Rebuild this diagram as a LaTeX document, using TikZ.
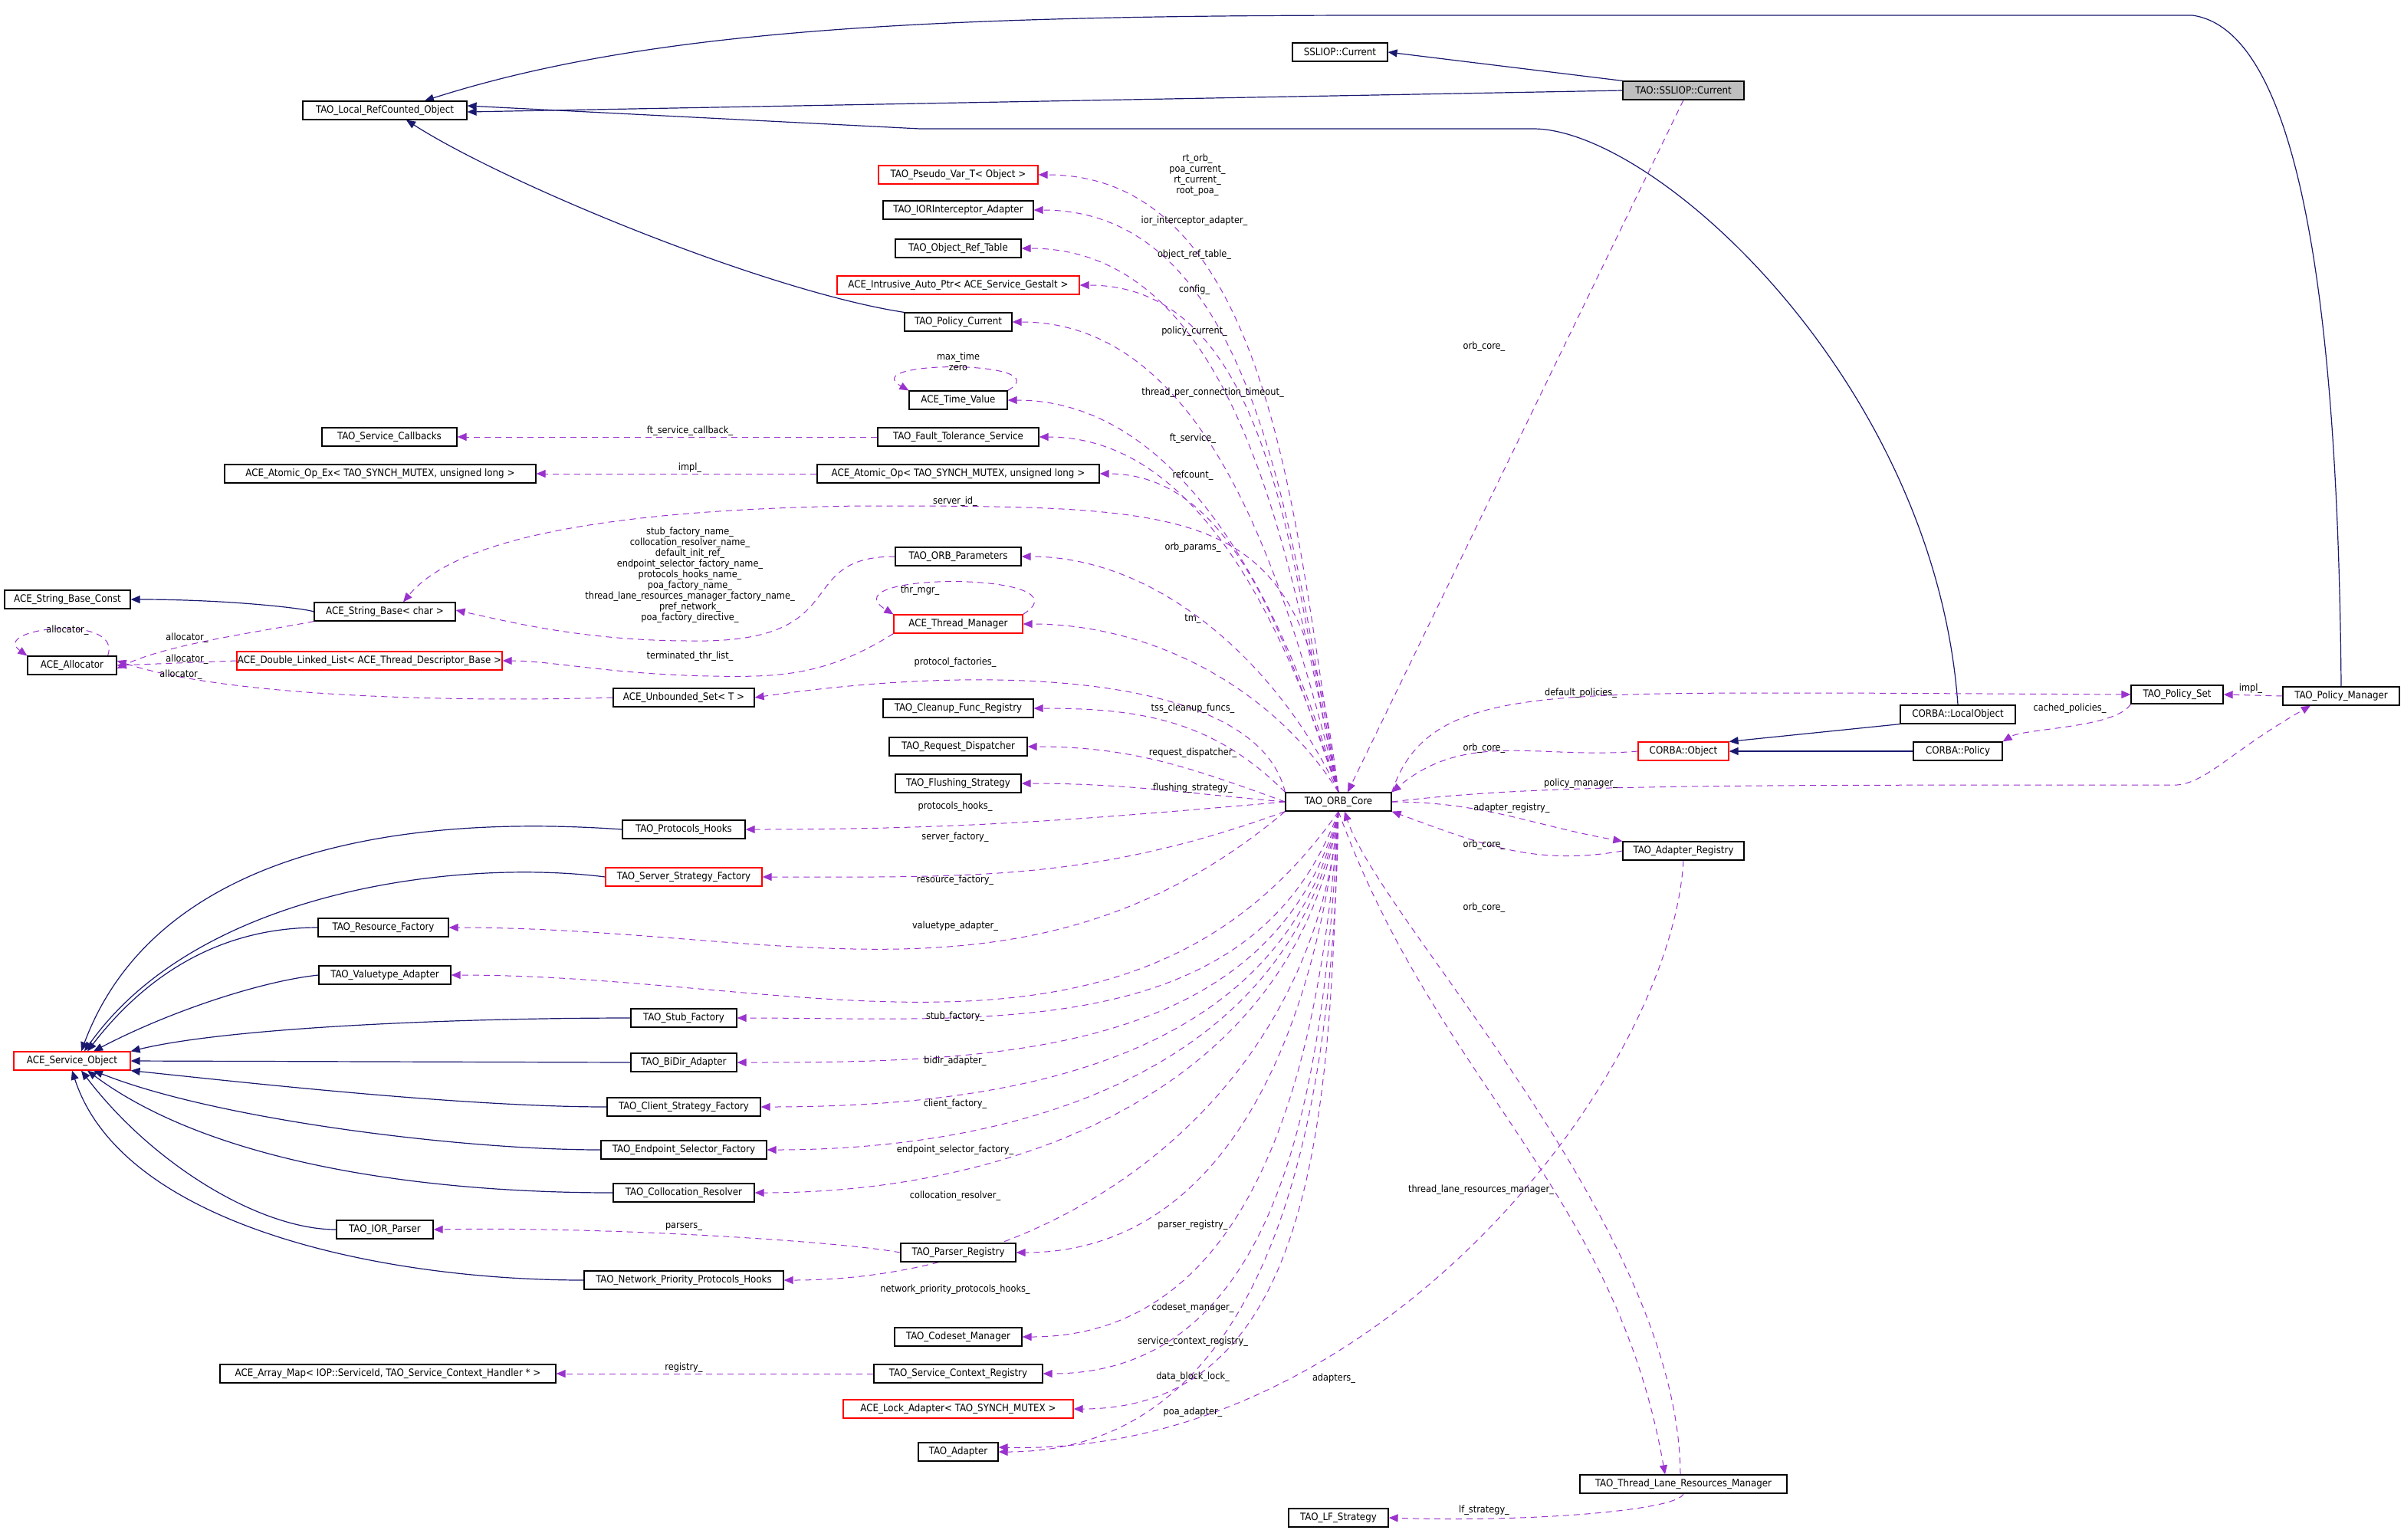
\documentclass[tikz,border=0pt]{standalone}
\usepackage{fontspec}
\setmainfont{DejaVu Sans Condensed}
\usetikzlibrary{arrows.meta,backgrounds}
\definecolor{navy}{HTML}{191970}
\definecolor{purp}{HTML}{9A32CD}
\begin{document}
\begin{tikzpicture}[x=1pt,y=-1pt,
  box/.style={draw=black,line width=0.6pt,minimum height=12pt,inner sep=0pt,font=\fontsize{6.6}{7}\selectfont,fill=white},
  rbox/.style={box,draw=red},
  gbox/.style={box,fill=black!25},
  inh/.style={draw=navy,line width=0.6pt,-{Triangle[length=6pt,width=5pt]}},
  dep/.style={draw=purp,line width=0.5pt,dashed,dash pattern=on 4pt off 3pt,-{Triangle[length=6pt,width=5pt]}},
  lbl/.style={font=\fontsize{6.3}{7}\selectfont,inner sep=0pt,align=center}]
\useasboundingbox (0,0) rectangle (1568,1004);
\newcommand\bx[6][box]{\node[#1,minimum width=#5pt] (#2) at (#3,#4) {#6};}
% nodes
\bx{sc}{874}{34}{62}{SSLIOP::Current}
\bx[gbox]{ssl}{1098}{59}{79}{TAO::SSLIOP::Current}
\bx{lro}{251}{72}{107}{TAO\_Local\_RefCounted\_Object}
\bx[rbox]{pvt}{625}{114}{104}{TAO\_Pseudo\_Var\_T< Object >}
\bx{iora}{625}{137}{98}{TAO\_IORInterceptor\_Adapter}
\bx{ort}{625}{162}{82}{TAO\_Object\_Ref\_Table}
\bx[rbox]{iap}{625}{186}{158}{ACE\_Intrusive\_Auto\_Ptr< ACE\_Service\_Gestalt >}
\bx{pc}{625}{210}{70}{TAO\_Policy\_Current}
\bx{tv}{625}{261}{64}{ACE\_Time\_Value}
\bx{scb}{254}{285}{88}{TAO\_Service\_Callbacks}
\bx{ft}{625}{285}{105}{TAO\_Fault\_Tolerance\_Service}
\bx{aoe}{248}{309}{203}{ACE\_Atomic\_Op\_Ex< TAO\_SYNCH\_MUTEX, unsigned long >}
\bx{ao}{625}{309}{184}{ACE\_Atomic\_Op< TAO\_SYNCH\_MUTEX, unsigned long >}
\bx{sbc}{44}{391}{82}{ACE\_String\_Base\_Const}
\bx{sb}{251}{399}{92}{ACE\_String\_Base< char >}
\bx{op}{625}{363}{82}{TAO\_ORB\_Parameters}
\bx[rbox]{tm}{625}{407}{84}{ACE\_Thread\_Manager}
\bx{alloc}{47}{434}{58}{ACE\_Allocator}
\bx[rbox]{dll}{241}{431}{173}{ACE\_Double\_Linked\_List< ACE\_Thread\_Descriptor\_Base >}
\bx{us}{446}{455}{92}{ACE\_Unbounded\_Set< T >}
\bx{cfr}{625}{462}{98}{TAO\_Cleanup\_Func\_Registry}
\bx{rd}{625}{487}{90}{TAO\_Request\_Dispatcher}
\bx{fs}{625}{511}{82}{TAO\_Flushing\_Strategy}
\bx{core}{873}{523}{69}{TAO\_ORB\_Core}
\bx{ph}{446}{541}{80}{TAO\_Protocols\_Hooks}
\bx[rbox]{ssf}{446}{572}{102}{TAO\_Server\_Strategy\_Factory}
\bx{rf}{250}{605}{85}{TAO\_Resource\_Factory}
\bx{va}{251}{636}{86}{TAO\_Valuetype\_Adapter}
\bx{stf}{446}{664}{69}{TAO\_Stub\_Factory}
\bx[rbox]{so}{47}{692}{76}{ACE\_Service\_Object}
\bx{bid}{446}{693}{69}{TAO\_BiDir\_Adapter}
\bx{csf}{446}{722}{100}{TAO\_Client\_Strategy\_Factory}
\bx{esf}{446}{750}{108}{TAO\_Endpoint\_Selector\_Factory}
\bx{cr}{446}{778}{92}{TAO\_Collocation\_Resolver}
\bx{iorp}{251}{802}{63}{TAO\_IOR\_Parser}
\bx{pr}{625}{817}{75}{TAO\_Parser\_Registry}
\bx{npph}{446}{835}{130}{TAO\_Network\_Priority\_Protocols\_Hooks}
\bx{cm}{625}{872}{83}{TAO\_Codeset\_Manager}
\bx{am}{253}{896}{219}{ACE\_Array\_Map< IOP::ServiceId, TAO\_Service\_Context\_Handler * >}
\bx{scr}{625}{896}{110}{TAO\_Service\_Context\_Registry}
\bx[rbox]{la}{625}{919}{150}{ACE\_Lock\_Adapter< TAO\_SYNCH\_MUTEX >}
\bx{ad}{625}{947}{52}{TAO\_Adapter}
\bx{tlrm}{1098}{968}{135}{TAO\_Thread\_Lane\_Resources\_Manager}
\bx{lf}{873}{990}{65}{TAO\_LF\_Strategy}
\bx{lo}{1277}{466}{75}{CORBA::LocalObject}
\bx[rbox]{co}{1098}{490}{59}{CORBA::Object}
\bx{cp}{1277}{490}{58}{CORBA::Policy}
\bx{ps}{1420}{453}{60}{TAO\_Policy\_Set}
\bx{ar}{1098}{555}{79}{TAO\_Adapter\_Registry}
\bx{pm}{1527}{454}{76}{TAO\_Policy\_Manager}
\begin{pgfonlayer}{background}
% inheritance
\draw[inh] (ssl.north west) -- (sc.east);
\draw[inh] (ssl.west) -- ([yshift=-1pt]lro.east);
\draw[inh] (pm.north) .. controls (1525,200) and (1500,20) .. (1430,10) -- (900,10) .. controls (600,10) and (420,20) .. ([xshift=26pt]lro.north);
\draw[inh] (lo.north) .. controls (1262,250) and (1080,84) .. (1000,84) -- (600,84) -- ([yshift=3pt]lro.east);
\draw[inh] (pc.north west) .. controls (500,190) and (330,120) .. ([xshift=14pt]lro.south);
\draw[inh] (lo.south west) -- (co.north east);
\draw[inh] (cp.west) -- (co.east);
\draw[inh] (sb.west) .. controls (200,397) and (150,391) .. (sbc.east);
\draw[inh] (ph.west) .. controls (250,530) and (100,560) .. ([xshift=6pt]so.north);
\draw[inh] (ssf.west) .. controls (300,560) and (130,580) .. ([xshift=8pt]so.north);
\draw[inh] (rf.west) .. controls (150,605) and (100,630) .. ([xshift=10pt]so.north);
\draw[inh] (va.west) .. controls (170,640) and (110,660) .. ([xshift=14pt]so.north);
\draw[inh] (stf.west) .. controls (300,664) and (150,670) .. (so.north east);
\draw[inh] (bid.west) -- (so.east);
\draw[inh] (csf.west) .. controls (300,722) and (150,705) .. (so.south east);
\draw[inh] (esf.west) .. controls (300,750) and (140,730) .. ([xshift=14pt]so.south);
\draw[inh] (cr.west) .. controls (280,778) and (140,760) .. ([xshift=10pt]so.south);
\draw[inh] (iorp.west) .. controls (170,802) and (100,760) .. ([xshift=6pt]so.south);
\draw[inh] (npph.west) .. controls (250,835) and (80,800) .. (so.south);
% ORB core members (upper)
\draw[dep] (core.north) to[out=100,in=0,looseness=0.9] (pvt.east);
\draw[dep] (core.north) to[out=101,in=0,looseness=0.9] (iora.east);
\draw[dep] (core.north) to[out=102,in=0,looseness=0.9] (ort.east);
\draw[dep] (core.north) to[out=103,in=0,looseness=0.9] (iap.east);
\draw[dep] (core.north) to[out=104,in=0,looseness=0.9] (pc.east);
\draw[dep] (core.north) to[out=106,in=0,looseness=0.9] (tv.east);
\draw[dep] (core.north) to[out=108,in=0,looseness=0.9] (ft.east);
\draw[dep] (core.north) to[out=110,in=0,looseness=0.9] (ao.east);
\draw[dep] (core.north) .. controls (850,330) and (800,330) .. (560,330) .. controls (360,333) and (290,360) .. ([xshift=12pt]sb.north);
\draw[dep] (core.north) to[out=115,in=0,looseness=0.9] (op.east);
\draw[dep] (core.north) to[out=122,in=0,looseness=0.9] (tm.east);
\draw[dep] (core.north west) .. controls (820,440) and (650,432) .. (us.east);
\draw[dep] (core.north west) to[out=135,in=0] (cfr.east);
\draw[dep] (core.west) to[out=160,in=0] (rd.east);
\draw[dep] (core.west) to[out=175,in=0] (fs.east);
% ORB core members (lower)
\draw[dep] (core.west) to[out=185,in=0] (ph.east);
\draw[dep] (core.south west) to[out=200,in=0] (ssf.east);
\draw[dep] (core.south west) to[out=220,in=0] (rf.east);
\draw[dep] (core.south) to[out=235,in=0] (va.east);
\draw[dep] (core.south) to[out=250,in=0] (stf.east);
\draw[dep] (core.south) to[out=255,in=0] (bid.east);
\draw[dep] (core.south) to[out=258,in=0] (csf.east);
\draw[dep] (core.south) to[out=260,in=0] (esf.east);
\draw[dep] (core.south) to[out=262,in=0] (cr.east);
\draw[dep] (core.south) to[out=264,in=0] (pr.east);
\draw[dep] (core.south) to[out=265,in=0] (npph.east);
\draw[dep] (core.south) to[out=266,in=0] (cm.east);
\draw[dep] (core.south) to[out=267,in=0] (scr.east);
\draw[dep] (core.south) to[out=268,in=0] (la.east);
\draw[dep] (core.south) to[out=269,in=0] (ad.east);
% right side
\draw[dep] (ssl.south) -- ([xshift=6pt]core.north);
\draw[dep] (co.west) to[out=185,in=40] (core.north east);
\draw[dep] (core.north east) .. controls (930,450) and (1000,452) .. (1200,452) -- (ps.west);
\draw[dep] (core.east) .. controls (1000,512) and (1100,512) .. (1420,512) .. controls (1440,510) and (1455,490) .. ([xshift=-20pt]pm.south);
\draw[dep] (core.east) to[out=0,in=170] (ar.north west);
\draw[dep] (ar.west) to[out=190,in=-20] (core.south east);
\draw[dep] (ar.south) .. controls (1090,700) and (900,950) .. ([yshift=3pt]ad.east);
\draw[dep] (core.south) to[out=-70,in=100] ([xshift=-12pt]tlrm.north);
\draw[dep] ([xshift=-2pt]tlrm.north) .. controls (1095,800) and (900,600) .. ([xshift=4pt]core.south);
\draw[dep] (tlrm.south) .. controls (1095,985) and (1000,993) .. (lf.east);
\draw[dep] (ps.south west) .. controls (1380,475) and (1320,475) .. (cp.north east);
\draw[dep] (pm.west) -- (ps.east);
% left side
\draw[dep] (ft.west) -- (scb.east);
\draw[dep] (ao.west) -- (aoe.east);
\draw[dep] (op.west) .. controls (515,363) and (560,420) .. (450,418) .. controls (380,418) and (330,405) .. ([yshift=1pt]sb.east);
\draw[dep] (tm.south west) .. controls (540,440) and (510,442) .. (465,441) .. controls (400,440) and (360,431) .. (dll.east);
\draw[dep] (sb.south west) .. controls (170,412) and (110,420) .. ([yshift=-2pt]alloc.east);
\draw[dep] (dll.west) -- (alloc.east);
\draw[dep] (us.west) .. controls (300,458) and (150,455) .. ([yshift=3pt]alloc.east);
\draw[dep] (pr.west) .. controls (550,810) and (400,800) .. (iorp.east);
\draw[dep] (scr.west) -- (am.east);
% loops
\draw[dep] (tv.north east) .. controls +(35,-20) and +(-35,-20) .. (tv.north west);
\draw[dep] (tm.north east) .. controls +(45,-28) and +(-45,-28) .. (tm.north west);
\draw[dep] ([xshift=-6pt]alloc.north east) .. controls +(10,-28) and +(-25,-18) .. (alloc.north west);
\end{pgfonlayer}
% labels
\node[lbl] at (781,114) {rt\_orb\_\\poa\_current\_\\rt\_current\_\\root\_poa\_};
\node[lbl] at (779,144) {ior\_interceptor\_adapter\_};
\node[lbl] at (779,166) {object\_ref\_table\_};
\node[lbl] at (779,189) {config\_};
\node[lbl] at (779,216) {policy\_current\_};
\node[lbl] at (625,236) {max\_time\\zero};
\node[lbl] at (791,256) {thread\_per\_connection\_timeout\_};
\node[lbl] at (778,286) {ft\_service\_};
\node[lbl] at (450,281) {ft\_service\_callback\_};
\node[lbl] at (778,310) {refcount\_};
\node[lbl] at (450,305) {impl\_};
\node[lbl] at (623,327) {server\_id\_};
\node[lbl] at (778,357) {orb\_params\_};
\node[lbl] at (450,375) {stub\_factory\_name\_\\collocation\_resolver\_name\_\\default\_init\_ref\_\\endpoint\_selector\_factory\_name\_\\protocols\_hooks\_name\_\\poa\_factory\_name\_\\thread\_lane\_resources\_manager\_factory\_name\_\\pref\_network\_\\poa\_factory\_directive\_};
\node[lbl] at (600,385) {thr\_mgr\_};
\node[lbl] at (778,404) {tm\_};
\node[lbl] at (44,411) {allocator\_};
\node[lbl] at (122,416) {allocator\_};
\node[lbl] at (122,430) {allocator\_};
\node[lbl] at (118,440) {allocator\_};
\node[lbl] at (450,428) {terminated\_thr\_list\_};
\node[lbl] at (623,432) {protocol\_factories\_};
\node[lbl] at (778,462) {tss\_cleanup\_funcs\_};
\node[lbl] at (778,491) {request\_dispatcher\_};
\node[lbl] at (778,514) {flushing\_strategy\_};
\node[lbl] at (623,526) {protocols\_hooks\_};
\node[lbl] at (623,546) {server\_factory\_};
\node[lbl] at (623,574) {resource\_factory\_};
\node[lbl] at (623,604) {valuetype\_adapter\_};
\node[lbl] at (623,663) {stub\_factory\_};
\node[lbl] at (623,692) {bidir\_adapter\_};
\node[lbl] at (623,720) {client\_factory\_};
\node[lbl] at (623,750) {endpoint\_selector\_factory\_};
\node[lbl] at (623,780) {collocation\_resolver\_};
\node[lbl] at (778,799) {parser\_registry\_};
\node[lbl] at (446,800) {parsers\_};
\node[lbl] at (623,841) {network\_priority\_protocols\_hooks\_};
\node[lbl] at (778,853) {codeset\_manager\_};
\node[lbl] at (778,875) {service\_context\_registry\_};
\node[lbl] at (446,892) {registry\_};
\node[lbl] at (778,898) {data\_block\_lock\_};
\node[lbl] at (778,921) {poa\_adapter\_};
\node[lbl] at (968,226) {orb\_core\_};
\node[lbl] at (1031,452) {default\_policies\_};
\node[lbl] at (968,488) {orb\_core\_};
\node[lbl] at (1031,511) {policy\_manager\_};
\node[lbl] at (986,527) {adapter\_registry\_};
\node[lbl] at (968,551) {orb\_core\_};
\node[lbl] at (968,592) {orb\_core\_};
\node[lbl] at (966,776) {thread\_lane\_resources\_manager\_};
\node[lbl] at (870,899) {adapters\_};
\node[lbl] at (968,985) {lf\_strategy\_};
\node[lbl] at (1350,462) {cached\_policies\_};
\node[lbl] at (1468,449) {impl\_};
\end{tikzpicture}
\end{document}
